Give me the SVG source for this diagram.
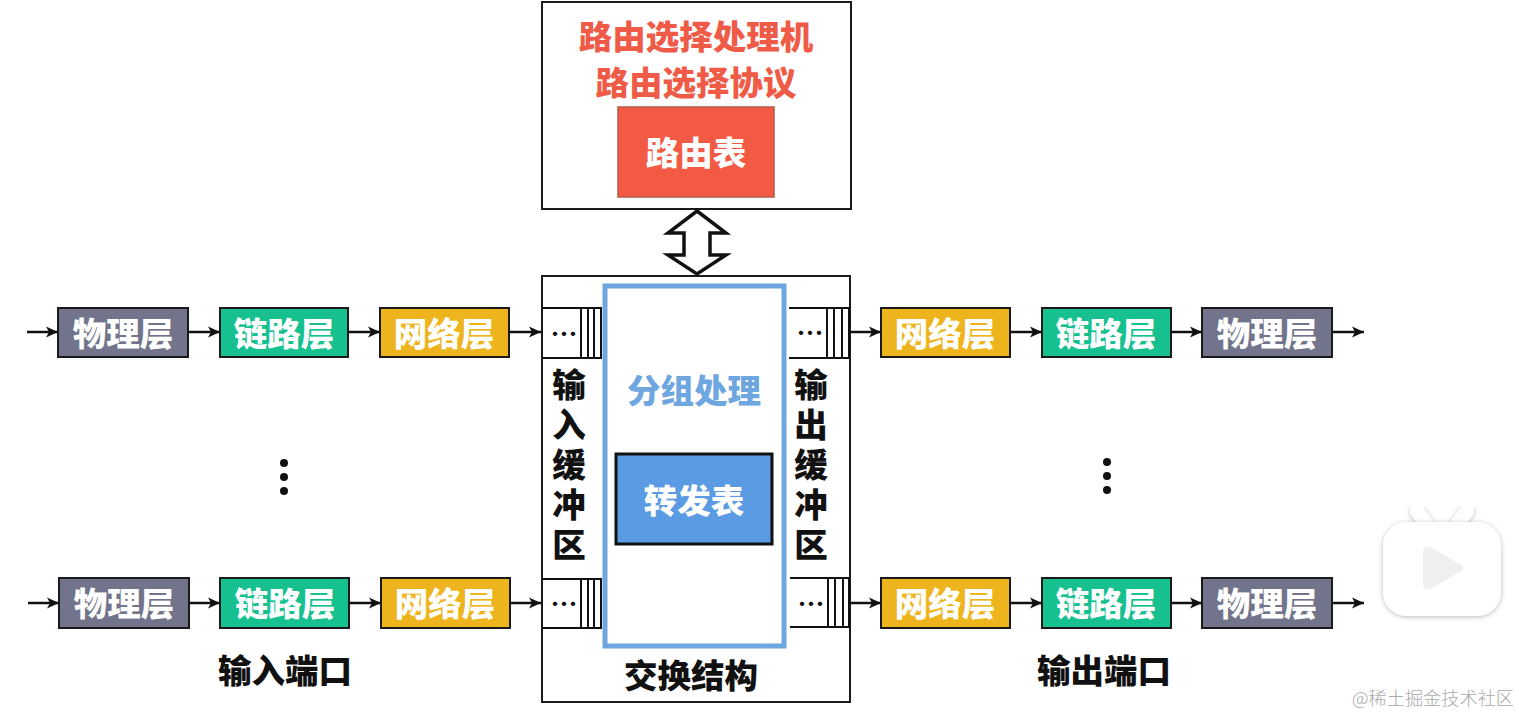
<svg xmlns="http://www.w3.org/2000/svg" width="1519" height="714" viewBox="0 0 1519 714">
<style>
text{font-family:"Noto Sans CJK SC","Noto Sans",sans-serif;font-weight:900;font-size:33.5px;text-anchor:middle;dominant-baseline:central}
.b{stroke:#1a1a1a;stroke-width:2}
.w{fill:#fff}
.k{fill:#111}
.phy{fill:#71748a}.lnk{fill:#17c08f}.net{fill:#eeb41e}
.f{fill:#fff;stroke:#1a1a1a;stroke-width:2}
.l{stroke:#111;stroke-width:2;fill:none}
.c{stroke:#111;stroke-width:2.5;fill:none;marker-end:url(#a)}
text.h{fill:#111;font-size:27px;font-weight:700}
text.v{writing-mode:vertical-rl;letter-spacing:6.5px;fill:#111}
</style>
<defs>
<marker id="a" markerUnits="userSpaceOnUse" markerWidth="14" markerHeight="14" refX="12" refY="7" orient="auto"><path d="M0 1.5L12 7L0 12.5L3 7Z" fill="#111"/></marker>
<filter id="s" x="-20%" y="-20%" width="140%" height="140%"><feDropShadow dx="0" dy="1" stdDeviation="2.5" flood-color="#000" flood-opacity="0.28"/></filter>
</defs>
<rect width="1519" height="714" fill="#fff"/>

<g id="router-processor">
<rect class="f" x="542" y="2" width="309" height="207"/>
<text x="696" y="34" fill="#ef5b47">路由选择处理机</text>
<text x="696" y="80" fill="#ef5b47">路由选择协议</text>
</g>
<g id="routing-table">
<rect x="618" y="107" width="156" height="90" fill="#f25a44" stroke="#b5594b" stroke-width="1.5"/>
<text x="696" y="150" class="w">路由表</text>
</g>
<g id="double-arrow">
<polygon points="697,211 726,233 710,233 710,255 726,255 697,274 668,255 684,255 684,233 668,233" fill="#fff" stroke="#111" stroke-width="3.5"/>
</g>

<g id="switch-fabric">
<rect class="f" x="542" y="276" width="308" height="426"/>
<text x="691" y="673" class="k">交换结构</text>
</g>
<g id="packet-processing">
<rect x="605" y="286" width="179" height="360" fill="#fff" stroke="#6ea6e0" stroke-width="5"/>
<text x="694" y="388" fill="#6ea6e0">分组处理</text>
</g>
<g id="forwarding-table">
<rect x="616" y="454" width="156" height="90" fill="#5b9be3" stroke="#111" stroke-width="3"/>
<text x="694" y="498" class="w">转发表</text>
</g>

<g id="input-buffer-1">
<path class="l" d="M542 308H601V358H542M581 308V358M588 308V358M594 308V358M601 308V358"/>
<text x="564" y="332" class="h">…</text>
</g>
<g id="input-buffer-2">
<path class="l" d="M542 579H601V628H542M581 579V628M588 579V628M594 579V628M601 579V628"/>
<text x="564" y="602" class="h">…</text>
</g>
<g id="output-buffer-1">
<path class="l" d="M789 308H849V358H789M827 308V358M834 308V358M842 308V358"/>
<text x="810" y="331" class="h">…</text>
</g>
<g id="output-buffer-2">
<path class="l" d="M790 578H849V627H790M828 578V627M835 578V627M843 578V627"/>
<text x="811" y="602" class="h">…</text>
</g>
<g id="input-buffer-label"><text x="569" y="468" class="v">输入缓冲区</text></g>
<g id="output-buffer-label"><text x="811" y="468" class="v">输出缓冲区</text></g>

<g id="in1-phy"><rect class="phy b" x="58" y="308" width="130" height="49"/><text x="123" y="331" class="w">物理层</text></g>
<g id="in1-link"><rect class="lnk b" x="220" y="308" width="128" height="49"/><text x="284" y="331" class="w">链路层</text></g>
<g id="in1-net"><rect class="net b" x="380" y="308" width="129" height="49"/><text x="444" y="331" class="w">网络层</text></g>
<g id="in2-phy"><rect class="phy b" x="59" y="578" width="130" height="50"/><text x="124" y="601" class="w">物理层</text></g>
<g id="in2-link"><rect class="lnk b" x="220" y="578" width="129" height="50"/><text x="285" y="601" class="w">链路层</text></g>
<g id="in2-net"><rect class="net b" x="381" y="578" width="129" height="50"/><text x="445" y="601" class="w">网络层</text></g>
<g id="out1-net"><rect class="net b" x="881" y="308" width="129" height="49"/><text x="945" y="331" class="w">网络层</text></g>
<g id="out1-link"><rect class="lnk b" x="1042" y="308" width="129" height="49"/><text x="1106" y="331" class="w">链路层</text></g>
<g id="out1-phy"><rect class="phy b" x="1202" y="308" width="130" height="49"/><text x="1267" y="331" class="w">物理层</text></g>
<g id="out2-net"><rect class="net b" x="881" y="578" width="129" height="50"/><text x="945" y="601" class="w">网络层</text></g>
<g id="out2-link"><rect class="lnk b" x="1042" y="578" width="129" height="50"/><text x="1106" y="601" class="w">链路层</text></g>
<g id="out2-phy"><rect class="phy b" x="1202" y="578" width="130" height="50"/><text x="1267" y="601" class="w">物理层</text></g>

<g id="connectors">
<path class="c" d="M27 332H58"/><path class="c" d="M188 332H220"/><path class="c" d="M348 332H380"/><path class="c" d="M509 332H541"/>
<path class="c" d="M849 332H881"/><path class="c" d="M1010 332H1042"/><path class="c" d="M1171 332H1202"/><path class="c" d="M1332 332H1364"/>
<path class="c" d="M28 603H59"/><path class="c" d="M189 603H220"/><path class="c" d="M349 603H381"/><path class="c" d="M510 603H541"/>
<path class="c" d="M849 603H881"/><path class="c" d="M1010 603H1042"/><path class="c" d="M1171 603H1202"/><path class="c" d="M1332 603H1364"/>
</g>

<g id="dots-left" fill="#111"><circle cx="284" cy="463" r="4"/><circle cx="284" cy="477" r="4"/><circle cx="284" cy="491" r="4"/></g>
<g id="dots-right" fill="#111"><circle cx="1107" cy="462" r="4"/><circle cx="1107" cy="476" r="4"/><circle cx="1107" cy="490" r="4"/></g>
<g id="input-port-label"><text x="285" y="668" class="k">输入端口</text></g>
<g id="output-port-label"><text x="1104" y="668" class="k">输出端口</text></g>

<g id="play-badge">
<path d="M1417 511L1431 530M1467 511L1453 530" stroke="#fff" stroke-width="14" stroke-linecap="round" filter="url(#s)"/>
<rect x="1383" y="522" width="118" height="94" rx="24" fill="#fff" filter="url(#s)"/>
<path d="M1423 553Q1423 543 1432 548L1461 565Q1466 568 1461 571L1432 588Q1423 593 1423 583Z" fill="#efefef"/>
</g>
<g id="watermark"><text x="1433" y="697" style="font-size:18.2px;font-weight:300;fill:#aaa">@稀土掘金技术社区</text></g>
</svg>
